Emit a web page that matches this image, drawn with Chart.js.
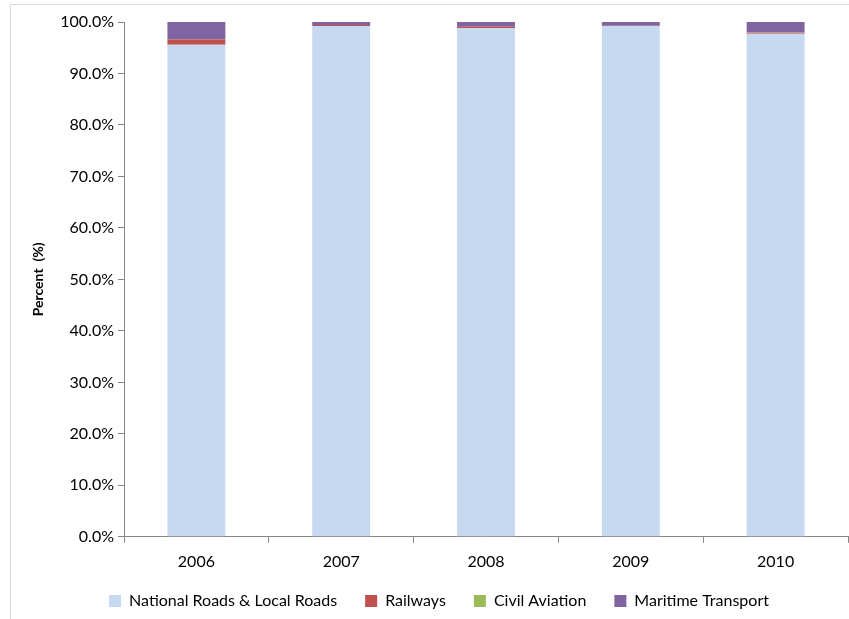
<!DOCTYPE html>
<html>
<head>
<meta charset="utf-8">
<script src="https://cdn.jsdelivr.net/npm/chart.js@4.4.1/dist/chart.umd.min.js"></script>
<style>
  html, body { margin: 0; padding: 0; background: #ffffff; overflow: hidden; }
  #frame { position: absolute; left: 10px; top: 4px; width: 850px; height: 630px; border: 1px solid #d9d9d9; box-sizing: border-box; }
  #wrap { position: absolute; left: 11px; top: 5px; width: 838px; height: 614px; }
</style>
</head>
<body>
<div id="frame"></div>
<div id="wrap"><canvas id="c"></canvas></div>
<script>
// Share of transport by mode, per year (percent)
const years = ['2006', '2007', '2008', '2009', '2010'];
const roads = [95.6, 99.2, 98.8, 99.2, 97.7];
const railways = [1.0, 0.2, 0.3, 0.05, 0.2];
const civilAviation = [0.0, 0.0, 0.0, 0.0, 0.05];
const maritime = [3.4, 0.6, 0.9, 0.75, 2.05];
const yTicks = [0, 10, 20, 30, 40, 50, 60, 70, 80, 90, 100];

const FONT = 'Lato, "Open Sans", sans-serif';

// Nudge the legend row closer to the axis labels
const legendNudge = {
  id: 'legendNudge',
  afterLayout(chart) {
    if (chart.legend) {
      chart.legend.top -= 15;
      chart.legend.bottom -= 15;
    }
  }
};

new Chart(document.getElementById('c'), {
  type: 'bar',
  data: {
    labels: years,
    datasets: [
      { label: 'National Roads & Local Roads', data: roads, backgroundColor: '#c6d9f1' },
      { label: 'Railways', data: railways, backgroundColor: '#c0504d' },
      { label: 'Civil Aviation', data: civilAviation, backgroundColor: '#9bbb59' },
      { label: 'Maritime Transport', data: maritime, backgroundColor: '#8064a2' }
    ]
  },
  plugins: [legendNudge],
  options: {
    responsive: true,
    maintainAspectRatio: false,
    animation: false,
    layout: { padding: { top: 17, right: 1, bottom: -15, left: 19 } },
    datasets: { bar: { categoryPercentage: 1.0, barPercentage: 0.4 } },
    plugins: {
      tooltip: { enabled: false },
      legend: {
        position: 'bottom',
        labels: {
          font: { family: FONT, size: 16 },
          color: '#000',
          boxWidth: 12,
          boxHeight: 12,
          padding: 28
        }
      }
    },
    scales: {
      x: {
        stacked: true,
        offset: true,
        grid: { offset: true, drawOnChartArea: false, tickLength: 6, color: '#868686' },
        border: { color: '#868686' },
        ticks: { font: { family: FONT, size: 16 }, color: '#000', padding: 9 }
      },
      y: {
        stacked: true,
        min: 0,
        max: 100,
        afterFit: s => { s.width = 94; },
        afterBuildTicks: s => { s.ticks = yTicks.map(v => ({ value: v })); },
        grid: { drawOnChartArea: false, tickLength: 6, color: '#868686' },
        border: { color: '#868686' },
        ticks: {
          font: { family: FONT, size: 16 },
          color: '#000',
          padding: 4,
          callback: v => v.toFixed(1) + '%'
        },
        title: {
          display: true,
          text: 'Percent  (%)',
          font: { family: FONT, size: 14, weight: 'bold' },
          color: '#000',
          padding: { top: 0, bottom: 0 }
        }
      }
    }
  }
});
</script>
</body>
</html>
